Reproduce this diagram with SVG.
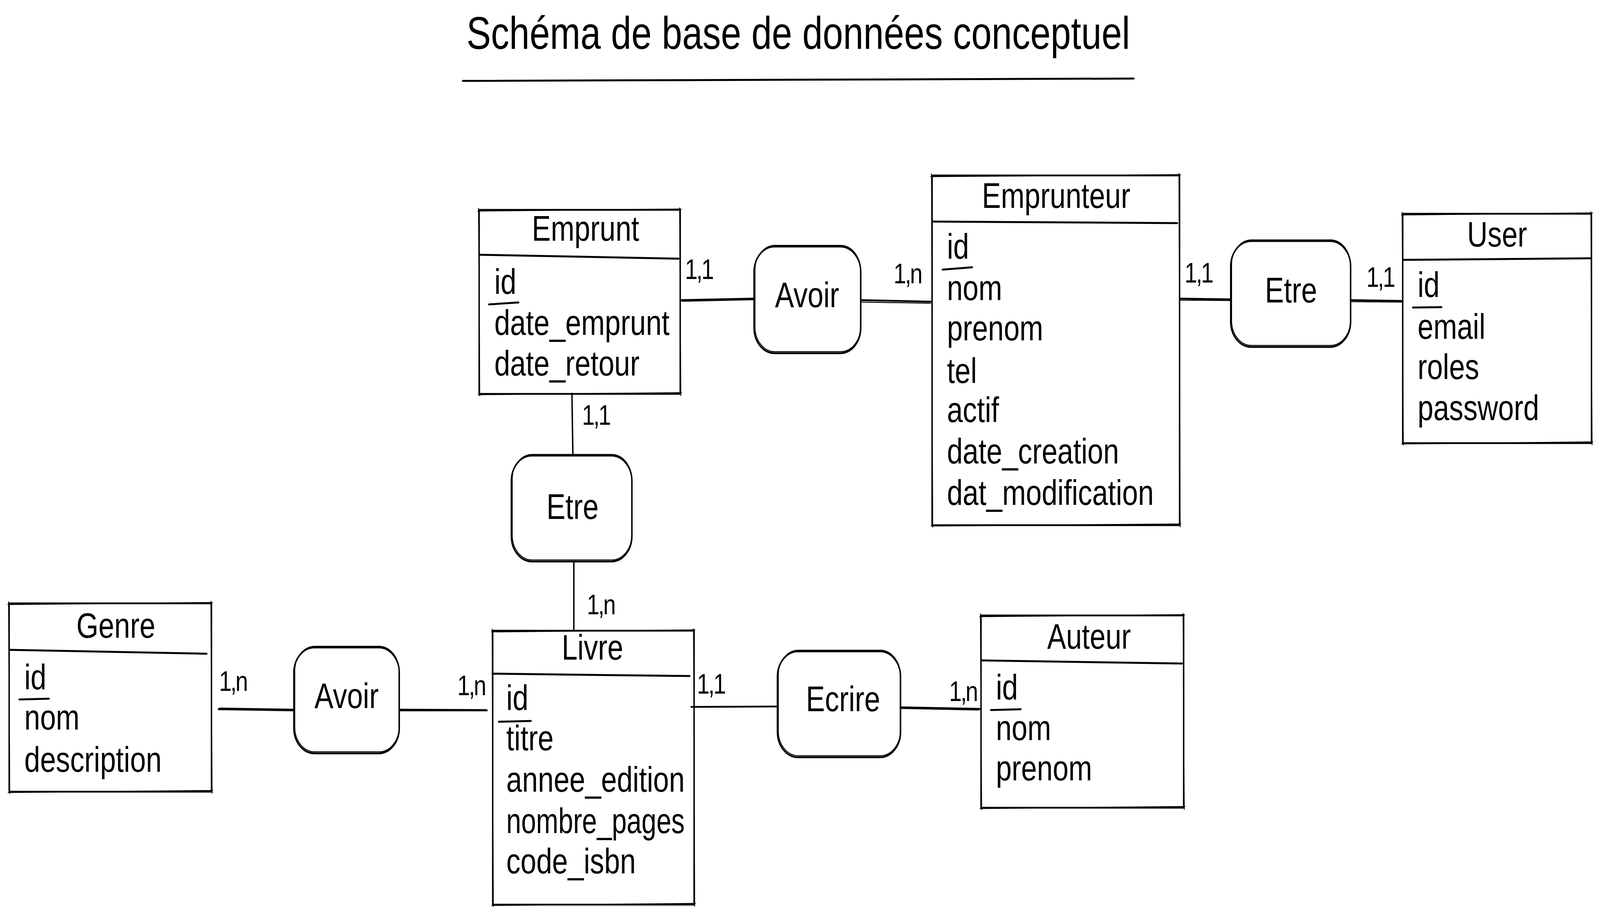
<svg xmlns="http://www.w3.org/2000/svg" width="5069" height="2339" viewBox="0 0 5069 2339" preserveAspectRatio="none">
<style>
  svg:root { width: 100vw; height: 100vh; display: block; }
  .bg { fill: #ffffff; }
  .s { fill: none; stroke: #000; stroke-width: 4.5; stroke-linecap: round; stroke-linejoin: round; }
  .s2 { fill: none; stroke: #000; stroke-width: 2.5; stroke-linecap: round; stroke-linejoin: round; }
  .hd { fill: none; stroke: #000; stroke-width: 5; stroke-linecap: round; }
  .c { fill: none; stroke: #000; stroke-width: 4.5; stroke-linecap: round; }
  .c2 { fill: none; stroke: #000; stroke-width: 2.5; stroke-linecap: round; }
  .u { fill: none; stroke: #000; stroke-width: 5; stroke-linecap: round; }
  text { font-family: "Liberation Sans", Arial, sans-serif; fill: #000; }
  .title { font-size: 116px; text-anchor: middle; }
  .h { font-size: 90px; text-anchor: middle; }
  .a { font-size: 90px; }
  .r { font-size: 90px; text-anchor: middle; }
  .l { font-size: 72px; text-anchor: middle; letter-spacing: -4px; }
</style>
<rect class="bg" x="0" y="0" width="5069" height="2339"/>

<g id="title">
  <text class="title" x="2529" y="125">Schéma de base de données conceptuel</text>
  <path class="hd" d="M1466,207 L3592,201"/>
</g>

<g id="connectors">
  <path class="c" d="M2155,768 L2389,764"/>
  <path class="c2" d="M2160,771 L2386,767"/>
  <path class="c" d="M2727,768 L2950,772"/>
  <path class="c2" d="M2730,773 L2948,776"/>
  <path class="c" d="M3737,764 L3899,766"/>
  <path class="c2" d="M3740,768 L3896,769"/>
  <path class="c" d="M4279,768 L4444,770"/>
  <path class="c2" d="M4282,772 L4441,773"/>
  <path class="c" d="M1812,1007 L1815,1166"/>
  <path class="c" d="M1818,1437 L1818,1614"/>
  <path class="c" d="M692,1815 L931,1818"/>
  <path class="c2" d="M695,1812 L928,1815"/>
  <path class="c" d="M1265,1818 L1543,1818"/>
  <path class="c2" d="M1268,1815 L1540,1816"/>
  <path class="c" d="M2190,1809 L2463,1808"/>
  <path class="c" d="M2853,1810 L3105,1814"/>
  <path class="c2" d="M2856,1813 L3102,1817"/>
  <text class="l" x="2214" y="714">1,1</text>
  <text class="l" x="2875" y="725">1,n</text>
  <text class="l" x="3797" y="723">1,1</text>
  <text class="l" x="4373" y="734">1,1</text>
  <text class="l" x="1888" y="1087">1,1</text>
  <text class="l" x="1903" y="1572">1,n</text>
  <text class="l" x="738" y="1768">1,n</text>
  <text class="l" x="1493" y="1779">1,n</text>
  <text class="l" x="2252" y="1775">1,1</text>
  <text class="l" x="3051" y="1794">1,n</text>
</g>

<g id="emprunt">
  <path class="s" d="M1518,537 L2155,537 L2155,1008 L1518,1008 Z"/>
  <path class="s2" d="M1514,540 L2158,535 M2153,532 L2157,1012 M2159,1005 L1515,1010 M1520,1013 L1516,533"/>
  <path class="hd" d="M1520,652 L2150,662"/>
  <text class="h" x="1855" y="616">Emprunt</text>
  <text class="a" x="1566" y="752">id</text>
  <path class="u" d="M1549,779 L1643,774"/>
  <text class="a" x="1566" y="857">date_emprunt</text>
  <text class="a" x="1566" y="961">date_retour</text>
</g>

<g id="emprunteur">
  <path class="s" d="M2953,449 L3737,449 L3737,1344 L2953,1344 Z"/>
  <path class="s2" d="M2949,452 L3740,447 M3735,444 L3739,1348 M3741,1341 L2950,1346 M2955,1349 L2951,445"/>
  <path class="hd" d="M2955,567 L3730,571"/>
  <text class="h" x="3346" y="532">Emprunteur</text>
  <text class="a" x="3000" y="662">id</text>
  <path class="u" d="M2986,690 L3080,684"/>
  <text class="a" x="3000" y="768">nom</text>
  <text class="a" x="3000" y="871">prenom</text>
  <text class="a" x="3000" y="980">tel</text>
  <text class="a" x="3000" y="1080">actif</text>
  <text class="a" x="3000" y="1186">date_creation</text>
  <text class="a" x="3000" y="1292">dat_modification</text>
</g>

<g id="user">
  <path class="s" d="M4444,547 L5042,547 L5042,1134 L4444,1134 Z"/>
  <path class="s2" d="M4440,550 L5045,545 M5040,542 L5044,1138 M5046,1131 L4441,1136 M4446,1139 L4442,543"/>
  <path class="hd" d="M4446,665 L5040,661"/>
  <text class="h" x="4743" y="631">User</text>
  <text class="a" x="4491" y="760">id</text>
  <path class="u" d="M4476,787 L4567,786"/>
  <text class="a" x="4491" y="867">email</text>
  <text class="a" x="4491" y="970">roles</text>
  <text class="a" x="4491" y="1075">password</text>
</g>

<g id="genre">
  <path class="s" d="M29,1544 L670,1544 L670,2026 L29,2026 Z"/>
  <path class="s2" d="M25,1547 L673,1542 M668,1539 L672,2030 M674,2023 L26,2028 M31,2031 L27,1540"/>
  <path class="hd" d="M31,1663 L655,1673"/>
  <text class="h" x="367" y="1632">Genre</text>
  <text class="a" x="77" y="1764">id</text>
  <path class="u" d="M61,1790 L155,1788"/>
  <text class="a" x="77" y="1867">nom</text>
  <text class="a" x="77" y="1975">description</text>
</g>

<g id="livre">
  <path class="s" d="M1561,1614 L2199,1614 L2199,2315 L1561,2315 Z"/>
  <path class="s2" d="M1557,1617 L2202,1612 M2197,1609 L2201,2319 M2203,2312 L1558,2317 M1563,2320 L1559,1610"/>
  <path class="hd" d="M1560,1724 L2185,1730"/>
  <text class="h" x="1877" y="1688">Livre</text>
  <text class="a" x="1604" y="1817">id</text>
  <path class="u" d="M1580,1847 L1682,1845"/>
  <text class="a" x="1604" y="1920">titre</text>
  <text class="a" x="1604" y="2026">annee_edition</text>
  <text class="a" x="1604" y="2132" textLength="565" lengthAdjust="spacingAndGlyphs">nombre_pages</text>
  <text class="a" x="1604" y="2235">code_isbn</text>
</g>

<g id="auteur">
  <path class="s" d="M3108,1575 L3750,1575 L3750,2067 L3108,2067 Z"/>
  <path class="s2" d="M3104,1578 L3753,1573 M3748,1570 L3752,2071 M3754,2064 L3105,2069 M3110,2072 L3106,1571"/>
  <path class="hd" d="M3110,1690 L3745,1698"/>
  <text class="h" x="3450" y="1660">Auteur</text>
  <text class="a" x="3155" y="1790">id</text>
  <path class="u" d="M3139,1817 L3234,1815"/>
  <text class="a" x="3155" y="1894">nom</text>
  <text class="a" x="3155" y="1997">prenom</text>
</g>

<g id="avoir-emprunt-emprunteur">
  <rect class="s" x="2389" y="631" width="338" height="273" rx="65" ry="65"/>
  <rect class="s2" x="2392" y="628" width="334" height="272" rx="63" ry="63"/>
  <text class="r" x="2557" y="786">Avoir</text>
</g>

<g id="etre-emprunteur-user">
  <rect class="s" x="3899" y="617" width="380" height="271" rx="65" ry="65"/>
  <rect class="s2" x="3902" y="614" width="376" height="270" rx="63" ry="63"/>
  <text class="r" x="4090" y="774">Etre</text>
</g>

<g id="etre-emprunt-livre">
  <rect class="s" x="1620" y="1166" width="382" height="271" rx="65" ry="65"/>
  <rect class="s2" x="1623" y="1163" width="378" height="270" rx="63" ry="63"/>
  <text class="r" x="1814" y="1328">Etre</text>
</g>

<g id="avoir-genre-livre">
  <rect class="s" x="931" y="1657" width="334" height="271" rx="65" ry="65"/>
  <rect class="s2" x="934" y="1654" width="330" height="270" rx="63" ry="63"/>
  <text class="r" x="1098" y="1812">Avoir</text>
</g>

<g id="ecrire-livre-auteur">
  <rect class="s" x="2463" y="1667" width="390" height="271" rx="65" ry="65"/>
  <rect class="s2" x="2466" y="1664" width="386" height="270" rx="63" ry="63"/>
  <text class="r" x="2671" y="1820">Ecrire</text>
</g>
</svg>
